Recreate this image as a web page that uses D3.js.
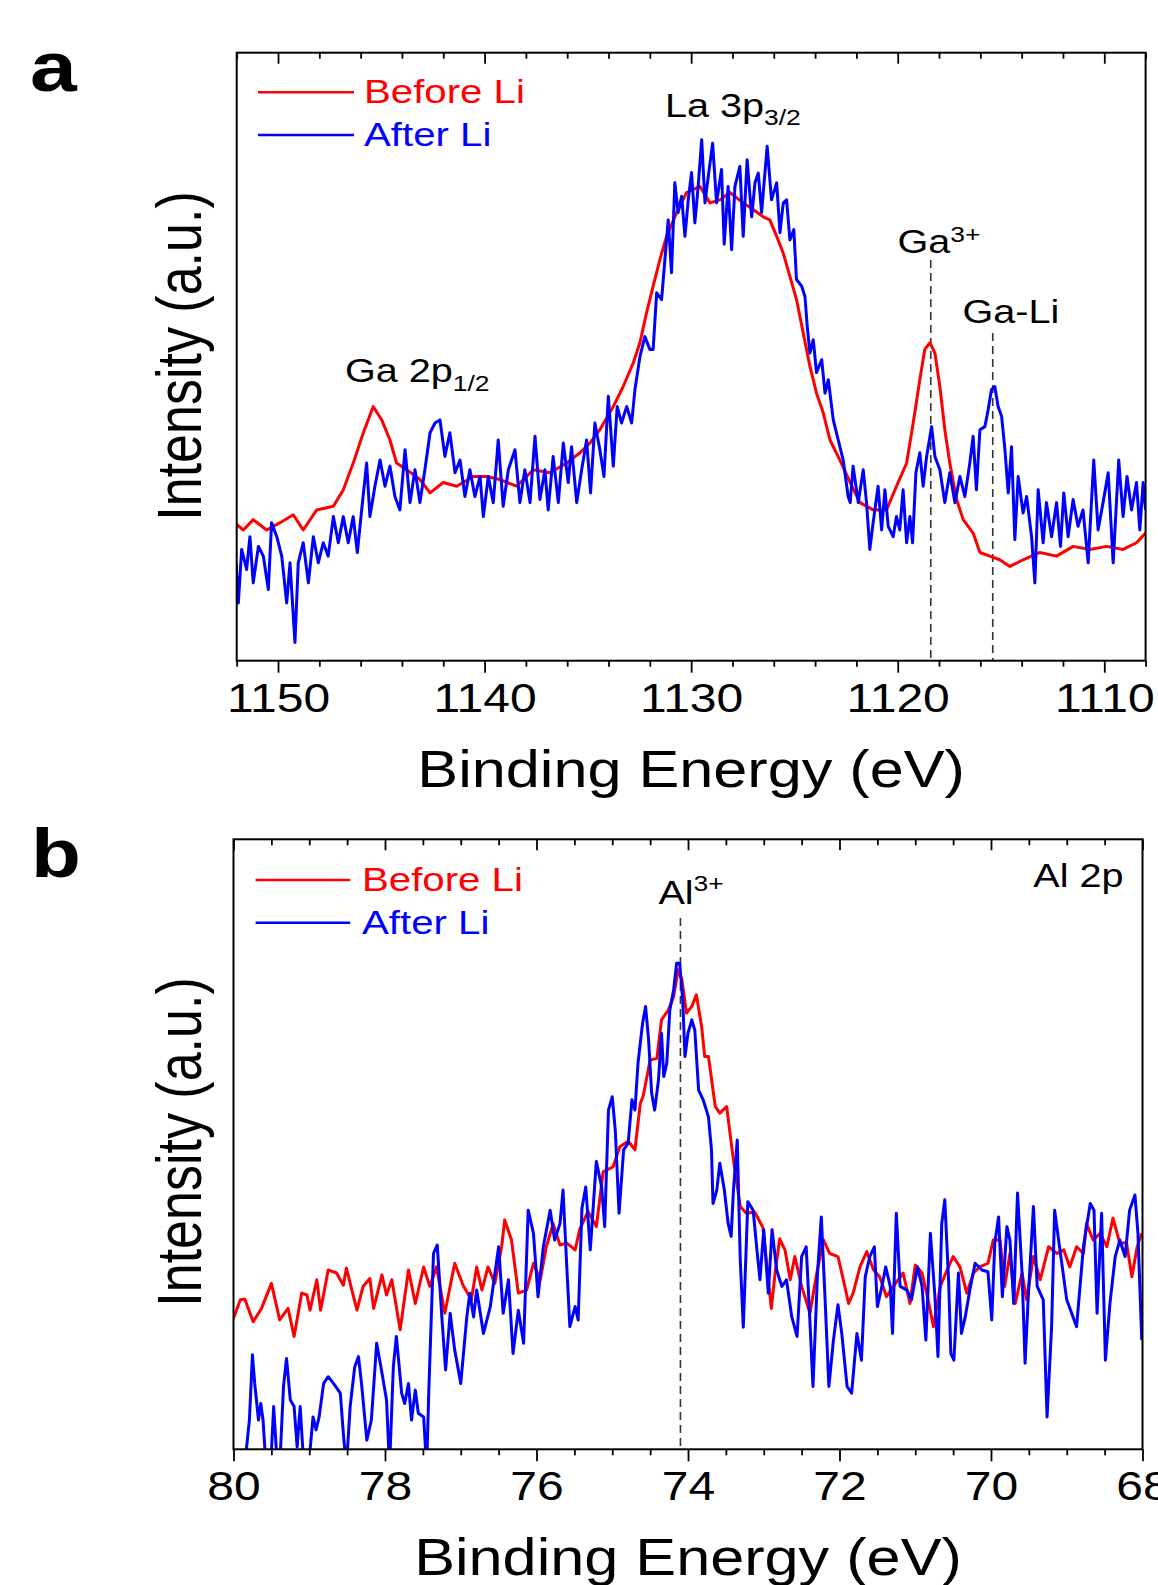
<!DOCTYPE html>
<html><head><meta charset="utf-8">
<script src="https://cdn.jsdelivr.net/npm/d3@7"></script>
<style>
body{margin:0;background:#fff}
svg text{font-family:"Liberation Sans",Arial,Helvetica,sans-serif}
</style>
</head><body>
<svg id="chart" width="1158" height="1585"></svg>
<script>
// ---------------- DATA ----------------
const seriesNames = ["Before Li", "After Li"];
const seriesColors = ["#ff0000", "#0000ff"];

// Panel a : Ga 2p / La 3p region (binding energy eV, intensity a.u.)
const aDomain = [1152, 1108];
const aTicksMajor = [1150, 1140, 1130, 1120, 1110];
const aTicksMinor = [1152,1148,1146,1144,1142,1138,1136,1134,1132,1128,1126,1124,1122,1118,1116,1114,1112,1108];
const aBefore = [[1152.0,22.4],[1151.68,21.5],[1151.2,23.2],[1150.55,21.5],[1149.9,22.7],[1149.26,24],[1148.78,21.5],[1148.13,24.8],[1147.32,25.4],[1146.84,28.1],[1146.36,32.5],[1145.87,37.5],[1145.39,41.8],[1144.98,39.6],[1144.58,36.3],[1144.26,32.5],[1143.77,31.4],[1143.13,29.8],[1142.64,27.6],[1142.0,29.3],[1141.35,28.7],[1140.55,30.3],[1139.9,30.3],[1139.26,29.8],[1138.45,28.7],[1137.64,31.4],[1136.84,30.9],[1136.03,32.5],[1135.38,34.2],[1134.9,35.8],[1134.42,38],[1133.77,41.8],[1133.29,45.1],[1132.8,49],[1132.48,52.3],[1132.16,57.2],[1131.84,61.6],[1131.51,66],[1131.19,69.8],[1130.7,73.7],[1130.22,77],[1129.57,78],[1129.09,75.3],[1128.6,75.8],[1128.12,77],[1127.48,75.3],[1127.0,74.2],[1126.51,73],[1126.19,72.5],[1125.86,69.8],[1125.54,67],[1125.22,63.2],[1124.9,59.4],[1124.58,54],[1124.25,48.4],[1123.93,44],[1123.61,40.8],[1123.28,36.3],[1122.8,33],[1122.3,29.3],[1121.83,26],[1121.19,24.8],[1120.54,24.8],[1120.06,28.7],[1119.57,32.5],[1119.25,39.1],[1118.93,46.2],[1118.69,51.2],[1118.44,52.3],[1118.2,50.6],[1117.96,45.1],[1117.72,38],[1117.48,32.5],[1117.15,26.5],[1116.83,23.2],[1116.35,21],[1116.02,17.8],[1115.54,17.2],[1115.06,16.6],[1114.57,15.5],[1113.93,16.6],[1113.12,17.8],[1112.31,17.2],[1111.51,18.8],[1110.7,18.3],[1109.89,18.8],[1109.09,18.3],[1108.44,19.4],[1108.0,21]];
const aAfter = [[1152.03,16.1],[1151.92,9.5],[1151.76,18.3],[1151.52,15],[1151.36,20.4],[1151.2,12.8],[1150.95,18.8],[1150.71,17.2],[1150.47,11.7],[1150.31,22.7],[1150.06,20.4],[1149.82,17.2],[1149.58,9.5],[1149.42,16.1],[1149.18,3],[1149.02,16.1],[1148.78,19.4],[1148.53,12.8],[1148.29,20.4],[1148.05,16.1],[1147.81,19.4],[1147.57,17.2],[1147.32,23.7],[1147.08,19.4],[1146.84,23.7],[1146.6,19.4],[1146.36,23.7],[1146.16,17.8],[1145.95,24.8],[1145.71,32.5],[1145.55,23.7],[1145.31,28.7],[1145.06,33],[1144.82,28.7],[1144.58,32],[1144.34,27],[1144.1,24.8],[1143.85,34.7],[1143.61,26],[1143.37,31.4],[1143.13,26],[1142.89,31.4],[1142.64,37.5],[1142.4,39.1],[1142.16,39.6],[1141.92,33.6],[1141.68,37.5],[1141.43,30.9],[1141.19,33],[1140.95,27],[1140.71,31.4],[1140.47,27],[1140.22,30.3],[1140.06,23.7],[1139.82,30.3],[1139.58,26],[1139.34,36.3],[1139.1,25.4],[1138.85,31.4],[1138.53,34.7],[1138.29,26],[1138.05,31.4],[1137.8,26],[1137.56,36.9],[1137.32,26.5],[1137.08,31.4],[1136.92,24.8],[1136.68,33.6],[1136.43,26],[1136.19,35.8],[1135.95,29.3],[1135.79,35.2],[1135.54,26],[1135.3,31.4],[1135.06,36.3],[1134.87,27.6],[1134.66,39.1],[1134.42,34.7],[1134.22,30.3],[1134.01,43.5],[1133.77,32],[1133.58,41.8],[1133.37,39.1],[1133.12,41.8],[1132.88,39.1],[1132.72,44.6],[1132.48,50],[1132.24,53.3],[1132.0,51.2],[1131.84,51.2],[1131.67,60.5],[1131.43,59.4],[1131.27,66],[1131.11,72.5],[1130.95,63.8],[1130.79,78.6],[1130.63,73.7],[1130.46,76.4],[1130.3,69.8],[1130.14,75.8],[1129.98,80.3],[1129.82,72],[1129.66,78],[1129.49,85.7],[1129.33,75.3],[1129.17,79.7],[1128.96,85.1],[1128.77,75.3],[1128.53,80.8],[1128.4,68.5],[1128.21,78],[1128.04,67.6],[1127.88,78],[1127.64,81.3],[1127.48,69.8],[1127.29,82.4],[1127.07,73],[1126.91,78.6],[1126.75,80.2],[1126.59,73.7],[1126.32,84.6],[1126.11,75.8],[1125.86,78.6],[1125.7,70.4],[1125.54,75.3],[1125.38,75.8],[1125.22,69.2],[1125.03,70.9],[1124.9,62.7],[1124.65,61.6],[1124.49,59.9],[1124.38,55],[1124.25,50.6],[1124.09,52.8],[1123.93,47.4],[1123.68,49.5],[1123.52,44],[1123.36,46.2],[1123.12,39.6],[1122.88,36.3],[1122.64,33],[1122.4,27],[1122.3,26],[1122.16,32],[1121.91,26],[1121.67,31.4],[1121.51,26],[1121.35,18.3],[1121.19,22.7],[1120.95,28.7],[1120.78,21.5],[1120.62,28.1],[1120.46,22.1],[1120.22,20.4],[1120.06,23.7],[1119.9,21.5],[1119.74,28.1],[1119.57,19.4],[1119.41,23.7],[1119.28,19.4],[1119.12,30.9],[1118.93,34.2],[1118.77,28.7],[1118.6,33.6],[1118.36,38.5],[1118.2,33.6],[1117.96,31.4],[1117.72,26],[1117.48,30.9],[1117.23,26],[1116.99,30.3],[1116.75,27],[1116.51,32.5],[1116.35,36.9],[1116.19,28.1],[1116.02,38],[1115.78,38.5],[1115.62,41.3],[1115.46,44.6],[1115.3,45.1],[1115.14,41.8],[1114.97,40.2],[1114.81,34.7],[1114.65,27.6],[1114.49,35.2],[1114.33,19.9],[1114.17,30.3],[1113.93,24.3],[1113.76,27],[1113.52,20.4],[1113.36,12.8],[1113.2,28.1],[1112.96,19.4],[1112.8,26],[1112.55,20.4],[1112.31,26],[1112.12,18.8],[1111.96,27.6],[1111.75,20.4],[1111.51,26.5],[1111.27,22.1],[1111.03,24.8],[1110.78,16.1],[1110.51,33],[1110.3,21.5],[1110.06,26],[1109.81,30.9],[1109.57,16.1],[1109.3,33],[1109.09,23.7],[1108.9,30.3],[1108.68,24.8],[1108.44,29.3],[1108.28,21.5],[1108.12,29.3],[1108.0,24.8]];
const aMarkers = [{label:"Ga3+", e:1118.4}, {label:"Ga-Li", e:1115.4}];

// Panel b : Al 2p region
const bDomain = [80, 68];
const bTicksMajor = [80, 78, 76, 74, 72, 70, 68];
const bTicksMinor = [79.5,79,78.5,77.5,77,76.5,75.5,75,74.5,73.5,73,72.5,71.5,71,70.5,69.5,69,68.5];
const bBefore = [[80.0,21.5],[79.91,24.5],[79.85,24.6],[79.74,20.9],[79.63,23.1],[79.5,27.2],[79.39,21.2],[79.28,23.1],[79.2,18.5],[79.1,25.6],[79.03,25.3],[78.99,22.8],[78.9,27.8],[78.85,22.8],[78.75,29.4],[78.64,28.9],[78.55,26.9],[78.51,29.7],[78.37,22.8],[78.29,26.7],[78.2,28],[78.15,23.1],[78.04,28.6],[77.98,25.3],[77.91,27.8],[77.8,19.6],[77.69,29.4],[77.6,23.9],[77.49,29.9],[77.41,26.7],[77.32,29.9],[77.21,22.3],[77.08,30.5],[76.97,26.9],[76.86,24.5],[76.79,29.9],[76.72,26.1],[76.64,29.9],[76.55,27.2],[76.46,33.2],[76.42,37.6],[76.33,34.3],[76.24,25.6],[76.13,26.1],[76.04,30.5],[75.95,27.8],[75.87,33.2],[75.78,37],[75.69,33.5],[75.6,33.8],[75.49,32.7],[75.43,36],[75.32,39],[75.21,36.5],[75.12,45.5],[74.99,46.3],[74.9,49.6],[74.79,50.5],[74.7,49.1],[74.63,56.7],[74.59,58],[74.5,63.8],[74.41,64.1],[74.35,70.4],[74.26,72],[74.19,74.2],[74.13,78.6],[74.08,77],[74.02,71.5],[73.95,72.6],[73.89,74.5],[73.82,69.3],[73.78,64.4],[73.73,64.4],[73.64,56.2],[73.58,55.1],[73.49,56.2],[73.4,47.4],[73.31,39.8],[73.23,38.7],[73.12,38.9],[73.01,36.3],[72.9,23.1],[72.85,28.9],[72.79,34.5],[72.72,32.7],[72.65,27.8],[72.59,31.6],[72.5,26.7],[72.39,22.3],[72.3,28.9],[72.21,34.3],[72.13,32.1],[72.02,31.6],[71.95,27.8],[71.88,23.9],[71.82,25.6],[71.73,29.9],[71.64,32.4],[71.55,29.4],[71.47,28.3],[71.38,25],[71.29,26.7],[71.16,28.9],[71.07,23.9],[71.0,30.2],[70.91,28.9],[70.83,24.5],[70.76,20.1],[70.67,26.7],[70.58,29.4],[70.5,31.6],[70.41,29.9],[70.32,25.6],[70.23,28.9],[70.15,29.9],[70.04,30.5],[69.97,34.3],[69.88,34.3],[69.82,26.7],[69.75,32.1],[69.68,23.9],[69.59,28.9],[69.53,24.5],[69.44,31.6],[69.35,27.8],[69.24,33.2],[69.13,32.1],[69.04,32.7],[68.96,29.9],[68.87,33.2],[68.78,32.1],[68.74,37],[68.65,34.3],[68.56,35.4],[68.47,33.2],[68.39,37.9],[68.3,33.8],[68.21,33.8],[68.14,28.3],[68.07,33.2],[68.01,35.4]];
const bAfter = [[79.98,-6],[79.87,-4],[79.83,0],[79.79,4.8],[79.75,15.5],[79.72,10.8],[79.67,4.8],[79.64,7.5],[79.61,4.8],[79.57,-3],[79.51,-3],[79.47,7],[79.42,-3],[79.39,-3],[79.34,10.3],[79.3,14.9],[79.25,8.1],[79.2,7],[79.16,0.4],[79.12,7],[79.07,-3],[79.01,-3],[78.95,5.3],[78.91,3.2],[78.87,5.3],[78.81,10.8],[78.75,11.9],[78.68,10.8],[78.59,9.2],[78.55,2.6],[78.51,-3],[78.46,7],[78.4,13.5],[78.35,15.2],[78.31,10.8],[78.24,1.5],[78.18,4.8],[78.11,17.4],[78.04,12.5],[77.98,8.1],[77.94,-3],[77.89,13.5],[77.85,18.5],[77.78,9.2],[77.74,7.5],[77.69,10.8],[77.65,4.8],[77.6,9.7],[77.56,5.9],[77.49,5.3],[77.45,-3],[77.42,10.3],[77.36,32.1],[77.31,33.5],[77.25,21.7],[77.2,13],[77.14,22.3],[77.08,16.3],[77.0,10.8],[76.92,21.7],[76.88,25.6],[76.83,21.7],[76.79,26.1],[76.7,19],[76.61,23.4],[76.5,33.2],[76.44,22.3],[76.37,27.8],[76.31,15.7],[76.24,22.8],[76.17,17.4],[76.11,39.2],[76.04,35.4],[75.98,25],[75.91,33.2],[75.82,39.2],[75.76,34.3],[75.69,37],[75.65,42.5],[75.6,29.9],[75.56,20.1],[75.49,23.4],[75.45,21.2],[75.4,39.5],[75.35,43],[75.29,32.7],[75.21,47.2],[75.14,43],[75.1,36.5],[75.05,55.6],[75.0,57.8],[74.96,52.3],[74.91,38.7],[74.85,49.1],[74.79,50.2],[74.74,57.3],[74.7,55.6],[74.66,63.3],[74.6,69.8],[74.56,72.6],[74.52,67.1],[74.48,58.4],[74.44,55.6],[74.39,60.5],[74.35,68.2],[74.32,61.1],[74.28,63.3],[74.24,72],[74.19,75.3],[74.15,79.7],[74.11,79.7],[74.07,73.7],[74.04,64.4],[74.0,68.2],[73.95,70.4],[73.91,68.7],[73.86,58.9],[73.8,57.3],[73.73,54.5],[73.69,49.1],[73.67,40.3],[73.62,42.5],[73.58,46.9],[73.52,42.5],[73.47,37],[73.43,34.9],[73.4,42.5],[73.35,50.7],[73.31,31],[73.27,20],[73.21,40.6],[73.14,39.2],[73.09,32.7],[73.05,27.8],[73.0,36],[72.94,25.6],[72.89,36],[72.83,29.4],[72.76,26.7],[72.7,27.8],[72.63,21.7],[72.56,18.5],[72.5,31.6],[72.44,33.2],[72.4,23.4],[72.35,10.3],[72.29,28.9],[72.24,38.1],[72.19,24.5],[72.14,10.3],[72.08,17.9],[72.02,23.7],[71.97,19],[71.9,10.3],[71.84,9.2],[71.77,19],[71.71,14.6],[71.66,28.3],[71.6,31.6],[71.54,33.2],[71.5,23.4],[71.44,26.7],[71.39,29.9],[71.33,26.7],[71.3,19],[71.25,38.7],[71.2,26.7],[71.11,26.1],[71.05,24.5],[70.97,29.9],[70.91,26.7],[70.86,17.9],[70.8,35.4],[70.74,25],[70.7,15.2],[70.65,37],[70.61,40.9],[70.56,27.8],[70.53,15.7],[70.49,14.6],[70.43,28.9],[70.39,19],[70.34,21.7],[70.28,26.1],[70.21,30.5],[70.12,29.4],[70.04,29.1],[69.99,21.2],[69.95,33.8],[69.9,38.1],[69.85,25],[69.79,36.5],[69.75,34.3],[69.7,23.9],[69.65,42],[69.59,28.9],[69.55,14.1],[69.51,24.5],[69.44,39.8],[69.39,26.7],[69.31,24.5],[69.26,5.3],[69.2,20.1],[69.16,39.2],[69.09,32.7],[69.0,24.5],[68.87,20.1],[68.78,33.2],[68.69,40.3],[68.64,39.2],[68.6,22.3],[68.54,38.7],[68.49,14.6],[68.43,23.9],[68.36,31.6],[68.3,34.3],[68.23,31.6],[68.17,39.2],[68.1,41.7],[68.06,35.4],[68.01,17.9]];
const bMarkers = [{label:"Al3+", e:74.1}];

const xTitle = "Binding Energy (eV)";
const yTitle = "Intensity (a.u.)";

// ---------------- DRAWING ----------------
const SX = 1.2; // horizontal stretch of the original figure
const svg = d3.select("#chart");

function stretchedText(g, x, y, str, size, opts = {}) {
  const t = g.append("text")
    .attr("transform", `translate(${x},${y}) scale(${SX},1)` + (opts.rotate ? ` rotate(${opts.rotate})` : ""))
    .attr("font-size", size)
    .attr("fill", opts.fill || "#000")
    .attr("text-anchor", opts.anchor || "start")
    .attr("font-weight", opts.weight || "normal");
  t.text(str);
  return t;
}

function drawPanel(cfg) {
  const g = svg.append("g");
  const x = d3.scaleLinear().domain(cfg.domain).range([cfg.left, cfg.right]);
  const y = d3.scaleLinear().domain([0, 100]).range([cfg.bottom, cfg.top]);
  const clipId = "clip" + cfg.id;
  svg.append("defs").append("clipPath").attr("id", clipId)
    .append("rect").attr("x", cfg.left).attr("y", cfg.top)
    .attr("width", cfg.right - cfg.left).attr("height", cfg.bottom - cfg.top);

  // marker dashed lines
  cfg.markers.forEach((m, i) => {
    g.append("line")
      .attr("x1", x(m.e)).attr("x2", x(m.e))
      .attr("y1", cfg.markerTop[i]).attr("y2", cfg.bottom)
      .attr("stroke", "#333").attr("stroke-width", 1.6)
      .attr("stroke-dasharray", "8,5");
  });

  const line = d3.line().x(d => x(d[0])).y(d => y(d[1]));
  const plot = g.append("g").attr("clip-path", `url(#${clipId})`);
  [cfg.before, cfg.after].forEach((data, i) => {
    plot.append("path").datum(data)
      .attr("d", line)
      .attr("fill", "none")
      .attr("stroke", seriesColors[i])
      .attr("stroke-width", 3)
      .attr("stroke-linejoin", "round");
  });

  // axes
  const styleAxis = (sel) => {
    sel.select(".domain").remove();
    sel.selectAll(".tick line").attr("stroke", "#000").attr("stroke-width", 1.8);
  };
  const bottomMajor = g.append("g").attr("transform", `translate(0,${cfg.bottom})`)
    .call(d3.axisBottom(x).tickValues(cfg.major).tickSize(12).tickSizeOuter(0).tickFormat(d3.format("d")));
  styleAxis(bottomMajor);
  bottomMajor.selectAll(".tick text")
    .attr("y", cfg.tickLabelOffset).attr("dy", 0)
    .attr("font-size", 40).attr("fill", "#000")
    .attr("font-family", "Liberation Sans, Arial, sans-serif")
    .attr("transform", `scale(${SX},1)`);
  const bottomMinor = g.append("g").attr("transform", `translate(0,${cfg.bottom})`)
    .call(d3.axisBottom(x).tickValues(cfg.minor).tickSize(6).tickSizeOuter(0).tickFormat(""));
  styleAxis(bottomMinor);
  const topMajor = g.append("g").attr("transform", `translate(0,${cfg.top})`)
    .call(d3.axisTop(x).tickValues(cfg.major).tickSize(-11).tickSizeOuter(0).tickFormat(""));
  styleAxis(topMajor);
  const topMinor = g.append("g").attr("transform", `translate(0,${cfg.top})`)
    .call(d3.axisTop(x).tickValues(cfg.minor).tickSize(-6).tickSizeOuter(0).tickFormat(""));
  styleAxis(topMinor);

  // frame
  g.append("rect").attr("x", cfg.left).attr("y", cfg.top)
    .attr("width", cfg.right - cfg.left).attr("height", cfg.bottom - cfg.top)
    .attr("fill", "none").attr("stroke", "#000").attr("stroke-width", 2);

  // titles
  stretchedText(g, (cfg.left + cfg.right) / 2, cfg.xTitleY, xTitle, 51, {anchor: "middle"});
  stretchedText(g, 201, cfg.yTitleY, yTitle, 52, {anchor: "middle", rotate: -90});

  // panel letter
  stretchedText(g, cfg.letterX, cfg.letterY, cfg.letter, cfg.letterSize, {weight: "bold"});

  // legend
  seriesNames.forEach((name, i) => {
    const ly = cfg.legendY[i];
    g.append("line").attr("x1", cfg.legendX1).attr("x2", cfg.legendX2)
      .attr("y1", ly).attr("y2", ly)
      .attr("stroke", seriesColors[i]).attr("stroke-width", 2.6);
    stretchedText(g, cfg.legendTextX, ly + 11, name, 33.5, {fill: seriesColors[i]});
  });
  return {g, x, y};
}

// Panel a
const pa = drawPanel({
  id: "a", domain: aDomain, left: 236.7, right: 1145.6, top: 52.7, bottom: 660.7,
  major: aTicksMajor, minor: aTicksMinor, before: aBefore, after: aAfter,
  markers: aMarkers, markerTop: [260, 333],
  tickLabelOffset: 51, xTitleY: 787, yTitleY: 356,
  letter: "a", letterX: 30, letterY: 91, letterSize: 70,
  legendX1: 258, legendX2: 354, legendY: [92.3, 135], legendTextX: 364
});
// annotations a
(function(){
  const g = pa.g;
  const t1 = stretchedText(g, 665, 116.7, "La 3p", 33);
  t1.append("tspan").attr("dy", 8).attr("font-size", 22).text("3/2");
  const t2 = stretchedText(g, 345, 381.7, "Ga 2p", 33);
  t2.append("tspan").attr("dy", 9).attr("font-size", 22).text("1/2");
  const t3 = stretchedText(g, 897.5, 253.3, "Ga", 33);
  t3.append("tspan").attr("dy", -11).attr("font-size", 22).text("3+");
  stretchedText(g, 962.4, 323.3, "Ga-Li", 33);
})();

// Panel b
const pb = drawPanel({
  id: "b", domain: bDomain, left: 233.5, right: 1142.5, top: 839.3, bottom: 1449.3,
  major: bTicksMajor, minor: bTicksMinor, before: bBefore, after: bAfter,
  markers: bMarkers, markerTop: [918],
  tickLabelOffset: 50.7, xTitleY: 1575, yTitleY: 1142,
  letter: "b", letterX: 31, letterY: 877, letterSize: 68,
  legendX1: 255.6, legendX2: 350.2, legendY: [880, 922.7], legendTextX: 362
});
(function(){
  const g = pb.g;
  const t = stretchedText(g, 658.4, 904, "Al", 33);
  t.append("tspan").attr("dy", -13).attr("font-size", 22).text("3+");
  stretchedText(g, 1123.5, 887.3, "Al 2p", 33, {anchor: "end"});
})();
</script>
</body></html>
